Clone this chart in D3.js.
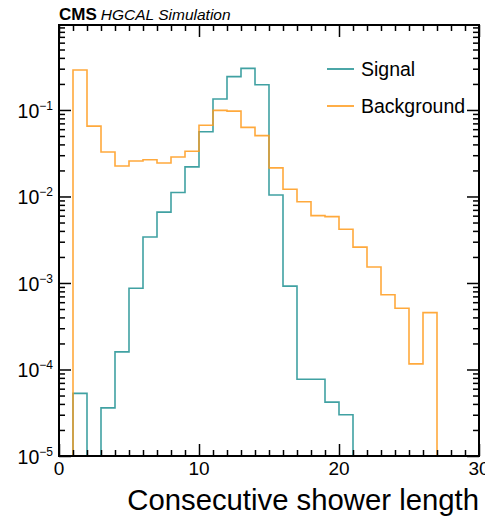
<!DOCTYPE html>
<html>
<head>
<meta charset="utf-8">
<script src="https://cdn.jsdelivr.net/npm/d3@7"></script>
<style>
  html, body { margin: 0; padding: 0; background: #fff; }
  svg { display: block; font-family: "Liberation Sans", Arial, Helvetica, sans-serif; }
</style>
</head>
<body>
<svg id="chart" width="485" height="517"></svg>
<script>
// bin lower edges (width 1)
const binLow = [0, 1, 2, 3, 4, 5, 6, 7, 8, 9, 10, 11, 12, 13, 14, 15, 16, 17, 18, 19,
                20, 21, 22, 23, 24, 25, 26, 27, 28, 29];
const binWidth = 1;

const signal = [0, 5.3e-5, 0, 3.6e-5, 1.6e-4, 8.7e-4, 3.4e-3, 6.6e-3, 1.11e-2, 2.2e-2,
                5.6e-2, 0.134, 0.243, 0.303, 0.196, 1.04e-2, 9.2e-4, 7.7e-5, 7.7e-5, 4.2e-5,
                3.0e-5, 0, 0, 0, 0, 0, 0, 0, 0, 0];

const background = [0, 0.29, 0.065, 0.0327, 0.0225, 0.0257, 0.0266, 0.0244, 0.0286, 0.0333,
                    0.0666, 0.099, 0.097, 0.063, 0.0505, 0.0214, 0.0121, 0.0087, 0.0060, 0.00585,
                    0.00418, 0.0026, 0.00153, 0.00073, 0.00051, 0.000116, 0.000454, 0, 0, 0];

const xTicks = [0, 10, 20, 30];
const yDecades = [-5, -4, -3, -2, -1];
const seriesNames = ['Signal', 'Background'];
const seriesColors = ['#1f9092', '#ff9a1a'];

const m = { top: 25, left: 59, right: 6, bottom: 61 };
const width = 485 - m.left - m.right;
const height = 517 - m.top - m.bottom;

const svg = d3.select('#chart');
const g = svg.append('g').attr('transform', `translate(${m.left},${m.top})`);

const x = d3.scaleLinear().domain([0, 30]).range([0, width]);
const y = d3.scaleLog().domain([1e-5, 0.96]).range([height, 0]).clamp(true);

g.append('clipPath').attr('id', 'clip')
  .append('rect').attr('width', width).attr('height', height);

// histogram outlines
function stepPath(vals) {
  const pts = [[binLow[0], 1e-12]];
  vals.forEach((v, i) => {
    pts.push([binLow[i], v]);
    pts.push([binLow[i] + binWidth, v]);
  });
  pts.push([binLow[binLow.length - 1] + binWidth, 1e-12]);
  return d3.line()
    .x(d => x(d[0]))
    .y(d => y(Math.max(d[1], 1e-12)))(pts);
}

[signal, background].forEach((vals, i) => {
  g.append('path')
    .attr('d', stepPath(vals))
    .attr('fill', 'none')
    .attr('stroke', seriesColors[i])
    .attr('stroke-width', 1.6)
    .attr('stroke-opacity', 0.85)
    .attr('clip-path', 'url(#clip)');
});

// frame
g.append('rect')
  .attr('width', width).attr('height', height)
  .attr('fill', 'none').attr('stroke', '#000').attr('stroke-width', 2);

// x ticks, inward on bottom and top
const xMinor = d3.range(0, 31).filter(t => t % 10 !== 0);
const xAxisB = d3.axisBottom(x).tickValues(xTicks).tickSize(-12).tickSizeOuter(0).tickFormat('');
const xAxisT = d3.axisTop(x).tickValues(xTicks).tickSize(-12).tickSizeOuter(0).tickFormat('');
const xMinB = d3.axisBottom(x).tickValues(xMinor).tickSize(-6).tickSizeOuter(0).tickFormat('');
const xMinT = d3.axisTop(x).tickValues(xMinor).tickSize(-6).tickSizeOuter(0).tickFormat('');
g.append('g').attr('transform', `translate(0,${height})`).call(xAxisB);
g.append('g').attr('transform', `translate(0,${height})`).call(xMinB);
g.append('g').call(xAxisT);
g.append('g').call(xMinT);

// y ticks, inward on left and right
const yMajor = yDecades.map(p => Math.pow(10, p));
const yMinor = y.ticks().filter(t => Math.abs(Math.log10(t) - Math.round(Math.log10(t))) > 1e-6);
const yAxisL = d3.axisLeft(y).tickValues(yMajor).tickSize(-12).tickSizeOuter(0).tickFormat('');
const yAxisR = d3.axisRight(y).tickValues(yMajor).tickSize(-12).tickSizeOuter(0).tickFormat('');
const yMinL = d3.axisLeft(y).tickValues(yMinor).tickSize(-6).tickSizeOuter(0).tickFormat('');
const yMinR = d3.axisRight(y).tickValues(yMinor).tickSize(-6).tickSizeOuter(0).tickFormat('');
g.append('g').call(yAxisL);
g.append('g').call(yMinL);
g.append('g').attr('transform', `translate(${width},0)`).call(yAxisR);
g.append('g').attr('transform', `translate(${width},0)`).call(yMinR);

g.selectAll('.domain').remove();
g.selectAll('.tick line').attr('stroke', '#000').attr('stroke-width', 1.5);

// tick labels
g.selectAll('.xlab').data(xTicks).enter().append('text')
  .attr('x', d => x(d)).attr('y', height + 19)
  .attr('text-anchor', 'middle')
  .attr('font-size', 19)
  .text(d => d);

const ylab = g.selectAll('.ylab').data(yDecades).enter().append('text')
  .attr('x', -6).attr('y', d => y(Math.pow(10, d)) + 8)
  .attr('text-anchor', 'end')
  .attr('font-size', 19.5);
ylab.append('tspan').text('10');
ylab.append('tspan').attr('font-size', 12).attr('dy', -8).text(d => '\u2212' + (-d));

// axis title
g.append('text')
  .attr('x', width).attr('y', height + 54)
  .attr('text-anchor', 'end')
  .attr('font-size', 29.3)
  .text('Consecutive shower length');

// CMS label
const cms = svg.append('text').attr('x', m.left).attr('y', 20);
cms.append('tspan').attr('font-weight', 'bold').attr('font-size', 17).text('CMS');
cms.append('tspan').attr('font-style', 'italic').attr('font-size', 15.5).attr('dx', 4).text('HGCAL Simulation');

// legend
const leg = g.append('g').attr('transform', 'translate(268,44)');
seriesNames.forEach((name, i) => {
  const row = leg.append('g').attr('transform', `translate(0,${i * 37})`);
  row.append('line').attr('x1', 0).attr('x2', 27)
    .attr('stroke', seriesColors[i]).attr('stroke-width', 1.6);
  row.append('text').attr('x', 34).attr('y', 7)
    .attr('font-size', 19.5).text(name);
});
</script>
</body>
</html>
